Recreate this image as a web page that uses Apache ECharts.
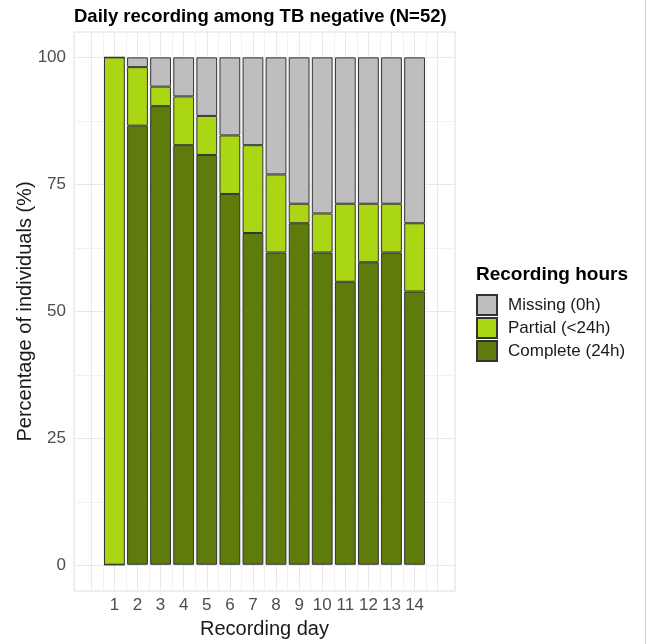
<!DOCTYPE html>
<html>
<head>
<meta charset="utf-8">
<script src="https://cdn.jsdelivr.net/npm/echarts@6/dist/echarts.min.js"></script>
<style>
  html, body { margin: 0; padding: 0; background: #ffffff; }
  #chart { width: 650px; height: 644px; }
</style>
</head>
<body>
<div id="chart"></div>
<script>
// Participants per day and daily recording status counts (TB negative group)
const N = 52;
const days = ['1', '2', '3', '4', '5', '6', '7', '8', '9', '10', '11', '12', '13', '14'];
const completeCounts = [0, 45, 47, 43, 42, 38, 34, 32, 35, 32, 29, 31, 32, 28];
const partialCounts  = [52, 6, 2, 5, 4, 6, 9, 8, 2, 4, 8, 6, 5, 7];
const missingCounts  = [0, 1, 3, 4, 6, 8, 9, 12, 15, 16, 15, 15, 15, 17];
const yTicks = [0, 25, 50, 75, 100];

const labels = {
  complete: 'Complete (24h)',
  partial: 'Partial (<24h)',
  missing: 'Missing (0h)'
};
const colors = {
  complete: '#5f7b0b',
  partial: '#abd613',
  missing: '#bebebe'
};

const FONT = '"Liberation Sans", Arial, Helvetica, sans-serif';
const MAJOR = '#e9e9e9';
const MINOR = '#f2f2f2';
const CLEAR = 'rgba(0,0,0,0)';

// Panel geometry: x runs from -0.75 to 15.75 day units, y from -5 to 105 %
const PANEL = { left: 74, top: 32, width: 381, height: 559 };
const X_MIN = -0.75, X_MAX = 15.75;
const Y_MIN = -5, Y_MAX = 105;
const unit = PANEL.width / (X_MAX - X_MIN);
// Band area holding the 14 day columns (from day 0.5 to day 14.5)
const BAND = {
  left: PANEL.left + (0.5 - X_MIN) * unit,
  top: PANEL.top,
  width: days.length * unit,
  height: PANEL.height
};

const toPct = c => c / N * 100;
// Minor horizontal grid lines sit halfway between labelled ticks
const yMinor = yTicks.slice(1).map((v, i) => (v + yTicks[i]) / 2);

// Vertical grid line colours: one entry per 0.25-day tick of the helper axis
function xGridColors() {
  const out = [];
  for (let k = 0; k <= 66; k++) {
    const v = X_MIN + 0.25 * k;
    if (v < 0 || v > 15) out.push(CLEAR);
    else if (Number.isInteger(v)) out.push(MAJOR);
    else if (Number.isInteger(v * 2)) out.push(MINOR);
    else out.push(CLEAR);
  }
  return out;
}

const barBase = {
  type: 'bar',
  stack: 'day',
  xAxisIndex: 1,
  yAxisIndex: 1,
  barWidth: '90%',
  emphasis: { disabled: true },
  animation: false
};
const outline = { borderColor: '#333333', borderWidth: 1 };

const chart = echarts.init(document.getElementById('chart'), null, { renderer: 'canvas' });

chart.setOption({
  backgroundColor: '#ffffff',
  animation: false,
  textStyle: { fontFamily: FONT },
  title: [
    {
      text: 'Daily recording among TB negative (N=52)',
      left: 74,
      top: 7,
      padding: 0,
      textStyle: { fontFamily: FONT, fontSize: 18.5, fontWeight: 'bold', color: '#000000' }
    },
    {
      text: 'Recording hours',
      left: 476,
      top: 265,
      padding: 0,
      textStyle: { fontFamily: FONT, fontSize: 19, fontWeight: 'bold', color: '#000000' }
    }
  ],
  legend: {
    orient: 'vertical',
    left: 476,
    top: 294,
    padding: 0,
    itemWidth: 20,
    itemHeight: 20,
    itemGap: 1,
    icon: 'rect',
    data: [labels.missing, labels.partial, labels.complete],
    selectedMode: false,
    textStyle: { fontFamily: FONT, fontSize: 17, color: '#1a1a1a', padding: [0, 0, 0, 6] }
  },
  grid: [
    {
      left: PANEL.left,
      top: PANEL.top,
      width: PANEL.width,
      height: PANEL.height,
      show: true,
      borderColor: '#dedede',
      borderWidth: 1,
      backgroundColor: 'transparent'
    },
    {
      left: BAND.left,
      top: BAND.top,
      width: BAND.width,
      height: BAND.height
    }
  ],
  xAxis: [
    {
      // panel vertical grid lines
      gridIndex: 0,
      type: 'value',
      min: X_MIN,
      max: X_MAX,
      interval: 0.25,
      axisLine: { show: false },
      axisTick: { show: false },
      axisLabel: { show: false },
      splitLine: { show: true, lineStyle: { color: xGridColors(), width: 1 } }
    },
    {
      // day columns
      gridIndex: 1,
      type: 'category',
      data: days,
      boundaryGap: true,
      name: 'Recording day',
      nameLocation: 'middle',
      nameGap: 23,
      nameTextStyle: { fontFamily: FONT, fontSize: 20, color: '#1a1a1a' },
      axisLine: { show: false },
      axisTick: { show: true, interval: 0, alignWithLabel: true, length: 4, lineStyle: { color: '#e0e0e0' } },
      axisLabel: { interval: 0, margin: 7, fontFamily: FONT, fontSize: 17, color: '#4d4d4d' },
      splitLine: { show: false }
    }
  ],
  yAxis: [
    {
      // labelled ticks, major horizontal grid lines and axis title
      gridIndex: 0,
      type: 'value',
      min: Y_MIN,
      max: Y_MAX,
      name: 'Percentage of individuals (%)',
      nameLocation: 'middle',
      nameGap: 39,
      nameMoveOverlap: false,
      nameTextStyle: { fontFamily: FONT, fontSize: 20, color: '#1a1a1a' },
      axisLine: { show: false },
      axisTick: { show: true, customValues: yTicks, length: 4, lineStyle: { color: '#e0e0e0' } },
      axisLabel: { customValues: yTicks, margin: 8, fontFamily: FONT, fontSize: 17, color: '#4d4d4d' },
      splitLine: { show: true, lineStyle: { color: MAJOR, width: 1 } }
    },
    {
      // value scale for the stacked columns
      gridIndex: 1,
      type: 'value',
      min: Y_MIN,
      max: Y_MAX,
      show: false,
      splitLine: { show: false }
    },
    {
      // minor horizontal grid lines
      gridIndex: 0,
      type: 'value',
      min: Y_MIN,
      max: Y_MAX,
      position: 'left',
      axisLine: { show: false },
      axisTick: { show: false, customValues: yMinor },
      axisLabel: { show: false, customValues: yMinor },
      splitLine: { show: true, lineStyle: { color: MINOR, width: 1 } }
    }
  ],
  series: [
    Object.assign({}, barBase, {
      name: labels.complete,
      data: completeCounts.map(toPct),
      itemStyle: Object.assign({ color: colors.complete }, outline)
    }),
    Object.assign({}, barBase, {
      name: labels.partial,
      data: partialCounts.map(toPct),
      itemStyle: Object.assign({ color: colors.partial }, outline)
    }),
    Object.assign({}, barBase, {
      name: labels.missing,
      data: missingCounts.map(toPct),
      itemStyle: Object.assign({ color: colors.missing }, outline)
    })
  ],
  graphic: [
    {
      type: 'line',
      shape: { x1: 645.5, y1: 0, x2: 645.5, y2: 644 },
      style: { stroke: '#cfcfcf', lineWidth: 1 },
      silent: true
    }
  ]
});
</script>
</body>
</html>
